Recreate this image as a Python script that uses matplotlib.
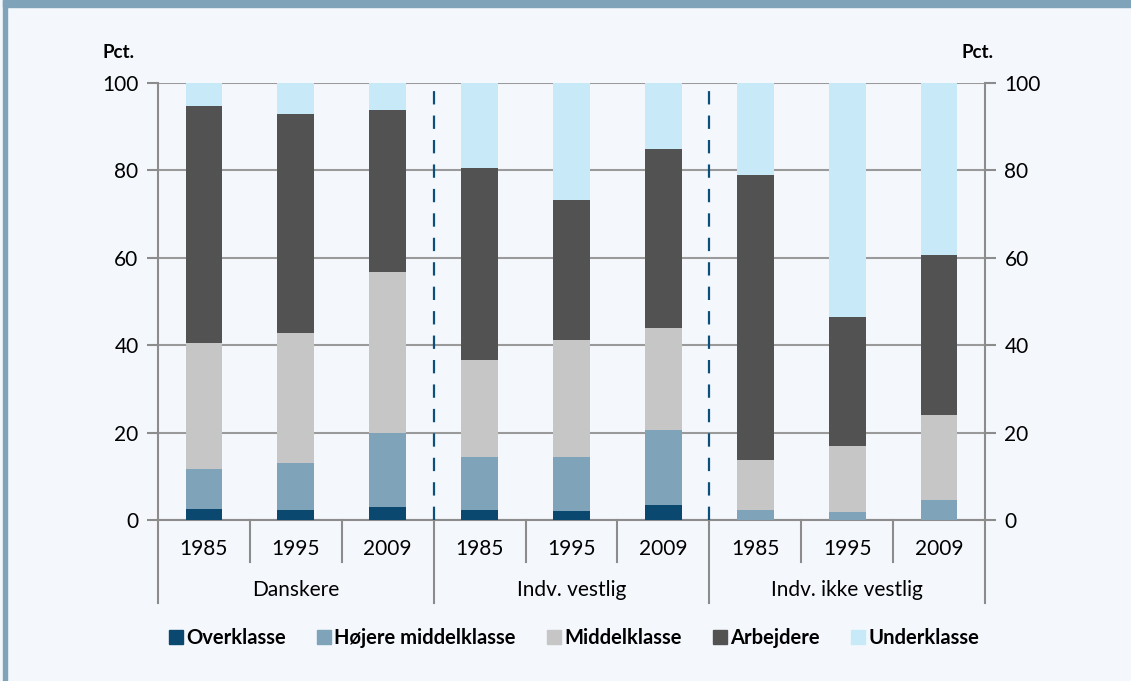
import numpy as np
import matplotlib.pyplot as plt
from matplotlib.lines import Line2D

plt.rcParams['font.family'] = ['Lato', 'DejaVu Sans']

# Data (pct.)
years = ['1985', '1995', '2009'] * 3
groups = ['Danskere', 'Indv. vestlig', 'Indv. ikke vestlig']
classes = ['Overklasse', 'Højere middelklasse', 'Middelklasse', 'Arbejdere', 'Underklasse']
overklasse = [2.5, 2.3, 2.9, 2.3, 2.0, 3.5, 0, 0, 0]
hoejere = [9.2, 10.7, 17.1, 12.2, 12.5, 17.0, 2.3, 1.9, 4.5]
middel = [28.7, 29.7, 36.7, 22.2, 26.7, 23.4, 11.5, 15.1, 19.5]
arbejdere = [54.3, 50.3, 37.1, 43.8, 32.0, 40.9, 65.2, 29.5, 36.7]
underklasse = [5.3, 7.0, 6.2, 19.5, 26.8, 15.2, 21.0, 53.5, 39.3]

colors = ['#0b4870', '#7fa3b9', '#c6c6c6', '#525252', '#c8e9f8']
bg = '#f4f8fd'

fig = plt.figure(figsize=(11.31, 6.81), dpi=100, facecolor=bg)
ax = fig.add_axes([158 / 1131, 1 - 520 / 681, 827 / 1131, 437 / 681])
ax.set_facecolor(bg)

# frame: top band and left border
fig.patches.append(plt.Rectangle((3 / 1131, 1 - 7 / 681), 1, 7 / 681, transform=fig.transFigure,
                                 color='#7fa3b9', zorder=0))
fig.patches.append(plt.Rectangle((3 / 1131, 0), 4 / 1131, 1, transform=fig.transFigure,
                                 color='#7fa3b9', zorder=0))

x = np.arange(len(years))
bottom = np.zeros(len(years))
for vals, c in zip([overklasse, hoejere, middel, arbejdere, underklasse], colors):
    ax.bar(x, vals, 0.4, bottom=bottom, color=c, zorder=3)
    bottom += np.array(vals)

ax.set_xlim(-0.5, 8.5)
ax.set_ylim(0, 100)
ax.set_yticks(range(0, 101, 20))
ax.yaxis.grid(True, color='#9a9a9a', lw=1.5, zorder=0)
ax.set_axisbelow(True)
ax.set_xticks([])
ax.tick_params(axis='y', which='both', left=True, right=True, labelleft=True, labelright=True,
               length=8, width=1.5, color='#8c8c8c', labelsize=15, pad=6)
for s in ['left', 'right', 'bottom']:
    ax.spines[s].set_color('#8c8c8c')
    ax.spines[s].set_linewidth(1.5)
ax.spines['top'].set_visible(False)

# dashed group separators
for xs in [2.5, 5.5]:
    ax.plot([xs, xs], [0, 100], color='#0b4f7a', lw=1.6, ls=(0, (6, 5)), zorder=4)

# category axis below
tr = ax.get_xaxis_transform()
for b in np.arange(-0.5, 9, 1):
    low = -0.19 if b in (-0.5, 2.5, 5.5, 8.5) else -0.096
    ax.plot([b, b], [0, low], color='#8c8c8c', lw=1.5, transform=tr, clip_on=False)
for i, yr in enumerate(years):
    ax.text(i, -0.066, yr, ha='center', va='center', fontsize=15, transform=tr)
for g, name in enumerate(groups):
    ax.text(3 * g + 1, -0.16, name, ha='center', va='center', fontsize=15, transform=tr)

fig.text(134 / 1131, 1 - 52 / 681, 'Pct.', ha='right', va='center', fontsize=13.5, fontweight='bold')
fig.text(961 / 1131, 1 - 52 / 681, 'Pct.', ha='left', va='center', fontsize=13.5, fontweight='bold')

handles = [Line2D([], [], ls='none', marker='s', markersize=10, color=c) for c in colors]
leg = fig.legend(handles, classes, loc='center', bbox_to_anchor=(0.508, 1 - 638 / 681), ncol=5,
                 frameon=False, handlelength=0.6, handletextpad=0.2, columnspacing=1.6,
                 prop={'weight': 'bold', 'size': 14.5})

fig.savefig('out.png', dpi=100, facecolor=bg)
